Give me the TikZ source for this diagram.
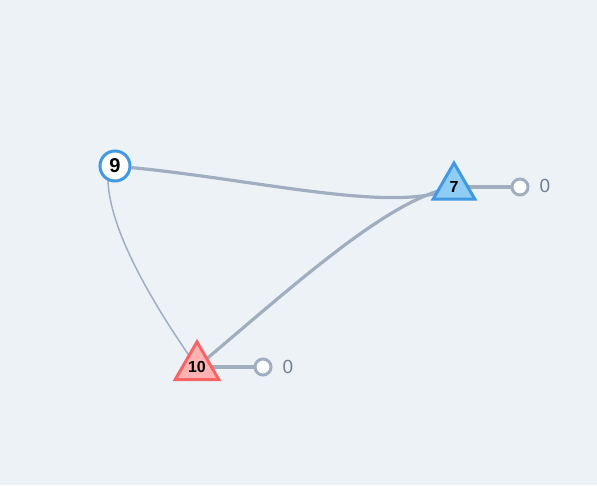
\documentclass[tikz,border=0pt]{standalone}
\usepackage{fontspec}
\setmainfont{Liberation Sans}
\usetikzlibrary{shapes.geometric,backgrounds}
\definecolor{bgc}{RGB}{237,242,247}
\definecolor{edgec}{RGB}{160,174,192}
\definecolor{bluec}{RGB}{66,153,225}
\definecolor{lbluec}{RGB}{144,205,244}
\definecolor{redc}{RGB}{245,101,101}
\definecolor{lredc}{RGB}{254,178,178}
\definecolor{labc}{RGB}{113,128,150}
\tikzset{
  circnode/.style={circle,draw=bluec,fill=white,line width=3pt,minimum size=30pt,inner sep=0pt,font=\bfseries\fontsize{20}{20}\selectfont},
  tri/.style={regular polygon,regular polygon sides=3,minimum size=48pt,inner sep=0pt,line width=3pt,font=\bfseries\fontsize{16}{16}\selectfont},
  bluetri/.style={tri,draw=bluec,fill=lbluec},
  redtri/.style={tri,draw=redc,fill=lredc},
  endnode/.style={circle,draw=edgec,fill=white,line width=3pt,minimum size=16pt,inner sep=0pt},
  zerolab/.style={text=labc,font=\fontsize{19}{19}\selectfont,inner sep=0pt},
  edgethick/.style={draw=edgec,line width=3.2pt},
  edgethin/.style={draw=edgec,line width=1.5pt}
}
\begin{document}
\begin{tikzpicture}[x=1pt,y=-1pt]
\useasboundingbox (0,0) rectangle (597,485);
\node[circnode] (n9) at (115,166) {9};
\node[bluetri] (n7) at (454,187) {7};
\node[redtri] (n10) at (197,367) {10};
\node[endnode] (e7) at (520,187) {};
\node[endnode] (e10) at (263,367) {};
\node[zerolab] (l7) at (545,186) {0};
\node[zerolab] (l10) at (288,367) {0};
\begin{scope}[on background layer]
\fill[bgc] (0,0) rectangle (597,485);
\draw[edgethick] (n9) .. controls (260,180) and (400,215) .. (n7.center);
\draw[edgethick] (n10.center) .. controls (300,280) and (390,198) .. (n7.center);
\draw[edgethin] (n9.245) .. controls (110,230) and (150,300) .. (n10.center);
\draw[edgethick] (n7.center) -- (e7);
\draw[edgethick] (n10.center) -- (e10);
\end{scope}
\end{tikzpicture}
\end{document}
